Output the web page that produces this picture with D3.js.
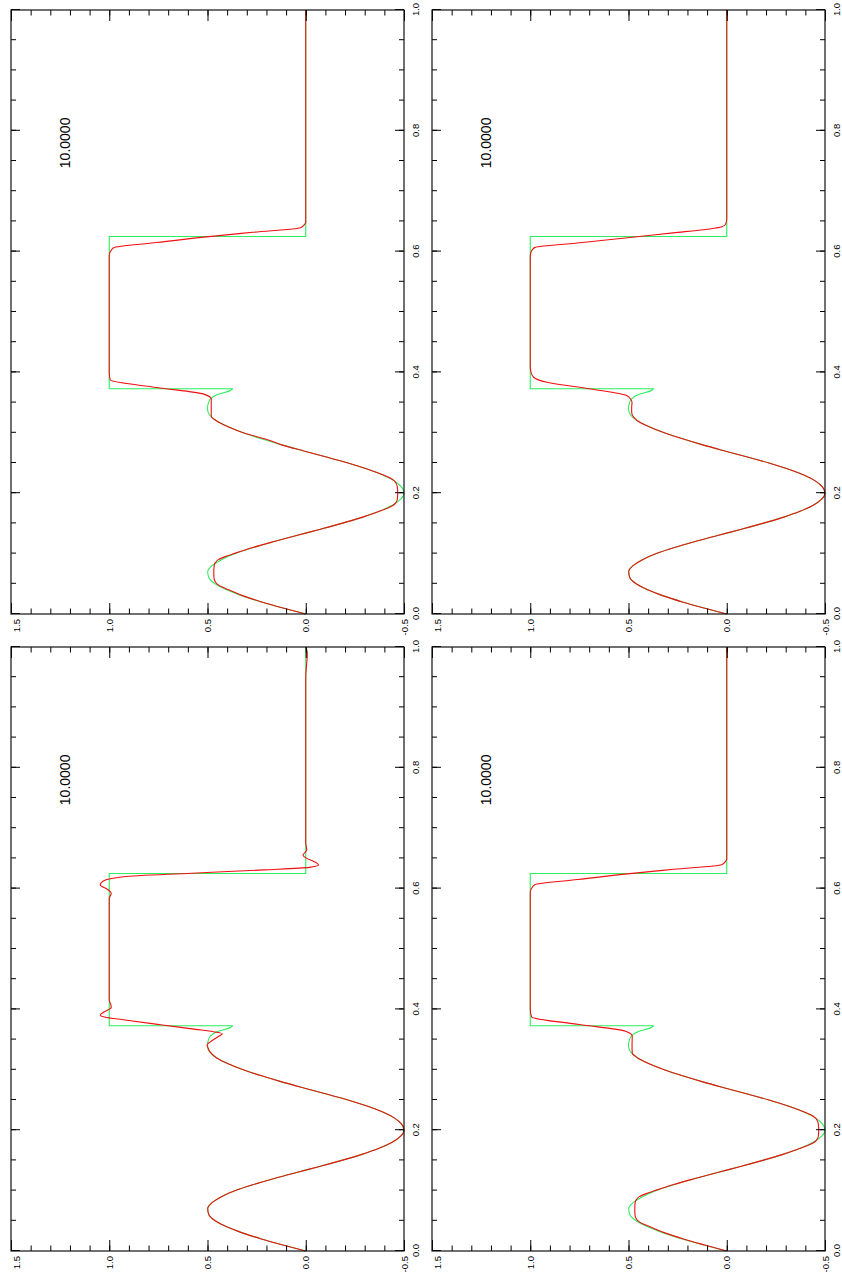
<!DOCTYPE html>
<html>
<head>
<meta charset="utf-8">
<script src="https://cdnjs.cloudflare.com/ajax/libs/d3/7.8.5/d3.min.js"></script>
<style>
  body { margin: 0; background: #fff; }
  svg text { font-family: "Liberation Sans", Arial, Helvetica, sans-serif; fill: #000; }
</style>
</head>
<body>
<svg id="chart" width="842" height="1275"></svg>
<script>
// exact solution: smooth part, then the square pulse
var exactX = [0, 0.01, 0.02, 0.03, 0.04, 0.05, 0.06, 0.07, 0.08, 0.09, 0.10, 0.11, 0.12, 0.13, 0.14,
  0.15, 0.16, 0.17, 0.18, 0.19, 0.20, 0.21, 0.22, 0.23, 0.24, 0.25, 0.26, 0.27, 0.28, 0.29,
  0.30, 0.31, 0.32, 0.33, 0.34, 0.35, 0.36, 0.365, 0.369, 0.373];
var exactY = [0, 0.116, 0.226, 0.323, 0.403, 0.461, 0.493, 0.499, 0.477, 0.429, 0.358, 0.266, 0.161, 0.047, -0.070,
  -0.183, -0.286, -0.373, -0.440, -0.483, -0.500, -0.488, -0.452, -0.392, -0.312, -0.215, -0.105, 0.010, 0.122, 0.225,
  0.318, 0.395, 0.455, 0.490, 0.500, 0.495, 0.470, 0.435, 0.390, 0.372];
var pulseX = [0.373, 0.373, 0.625, 0.625, 1.0];
var pulseY = [0.372, 1.0, 1.0, 0.0, 0.0];

// numerical solutions, one per panel
var redTLX = [0, 0.01, 0.02, 0.03, 0.04, 0.045, 0.05, 0.055, 0.06, 0.07, 0.08, 0.085, 0.09, 0.095, 0.10, 0.11, 0.12, 0.13, 0.14,
  0.15, 0.16, 0.17, 0.175, 0.18, 0.185, 0.19, 0.20, 0.21, 0.215, 0.22, 0.225, 0.23, 0.24, 0.25, 0.26, 0.27, 0.28, 0.287,
  0.30, 0.31, 0.32, 0.328, 0.34, 0.356, 0.364, 0.375, 0.3875, 0.40, 0.45, 0.55, 0.5937, 0.600, 0.6065, 0.615,
  0.624, 0.632, 0.6396, 0.645, 0.649, 0.66, 1.0];
var redTLY = [0, 0.116, 0.224, 0.318, 0.392, 0.428, 0.452, 0.463, 0.467, 0.468, 0.466, 0.46, 0.445, 0.41, 0.365, 0.27, 0.161, 0.047, -0.070,
  -0.183, -0.286, -0.375, -0.415, -0.446, -0.46, -0.466, -0.468, -0.466, -0.462, -0.452, -0.43, -0.395, -0.312, -0.215, -0.105, 0.010, 0.122, 0.179,
  0.318, 0.395, 0.455, 0.481, 0.481, 0.481, 0.519, 0.757, 0.995, 1.0, 1.0, 1.0, 1.0, 0.994, 0.978, 0.76,
  0.519, 0.27, 0.026, 0.006, 0.0, 0.0, 0.0];

var redTRX = [0, 0.01, 0.02, 0.03, 0.04, 0.05, 0.06, 0.07, 0.08, 0.09, 0.10, 0.11, 0.12, 0.13, 0.14,
  0.15, 0.16, 0.17, 0.18, 0.19, 0.20, 0.21, 0.22, 0.23, 0.24, 0.25, 0.26, 0.27, 0.28, 0.29,
  0.30, 0.31, 0.32, 0.3256, 0.334, 0.342, 0.350, 0.356, 0.3615, 0.3726, 0.3836, 0.392, 0.400, 0.41, 0.5, 0.590,
  0.598, 0.603, 0.607, 0.615, 0.623, 0.631, 0.637, 0.641, 0.646, 0.655, 1.0];
var redTRY = [0, 0.116, 0.226, 0.323, 0.403, 0.461, 0.493, 0.499, 0.477, 0.429, 0.358, 0.266, 0.161, 0.047, -0.070,
  -0.183, -0.286, -0.373, -0.440, -0.483, -0.500, -0.488, -0.452, -0.392, -0.312, -0.215, -0.105, 0.010, 0.122, 0.225,
  0.318, 0.395, 0.455, 0.473, 0.484, 0.484, 0.482, 0.49, 0.507, 0.694, 0.915, 0.983, 0.996, 1.0, 1.0, 1.0,
  0.997, 0.99, 0.975, 0.733, 0.504, 0.273, 0.10, 0.025, 0.005, 0.0, 0.0];

var redBLX = [0, 0.01, 0.02, 0.03, 0.04, 0.05, 0.06, 0.07, 0.08, 0.09, 0.10, 0.11, 0.12, 0.13, 0.14,
  0.15, 0.16, 0.17, 0.18, 0.19, 0.20, 0.21, 0.22, 0.23, 0.24, 0.25, 0.26, 0.27, 0.28, 0.29,
  0.30, 0.31, 0.32, 0.33, 0.336, 0.341, 0.348, 0.3555, 0.3595, 0.363, 0.367, 0.3742, 0.3825, 0.3875, 0.3908,
  0.396, 0.403, 0.409, 0.415, 0.5, 0.584, 0.592, 0.599, 0.6058, 0.6126, 0.6197, 0.6254, 0.631, 0.6352,
  0.6391, 0.6446, 0.650, 0.6555, 0.6639, 0.675, 0.95, 0.99, 1.0];
var redBLY = [0, 0.116, 0.226, 0.323, 0.403, 0.461, 0.493, 0.499, 0.477, 0.429, 0.358, 0.266, 0.161, 0.047, -0.070,
  -0.183, -0.286, -0.373, -0.440, -0.483, -0.500, -0.488, -0.452, -0.392, -0.312, -0.215, -0.105, 0.010, 0.122, 0.225,
  0.318, 0.395, 0.455, 0.488, 0.497, 0.502, 0.478, 0.442, 0.425, 0.47, 0.56, 0.73, 0.92, 1.025, 1.046,
  1.025, 0.99, 0.993, 1.0, 1.0, 1.0, 0.99, 1.01, 1.046, 1.03, 0.927, 0.58, 0.213, -0.017,
  -0.065, -0.043, -0.005, 0.014, -0.005, 0.0, 0.0, -0.008, 0.0];

var redBRX = [0, 0.01, 0.02, 0.03, 0.04, 0.045, 0.05, 0.055, 0.06, 0.07, 0.08, 0.085, 0.09, 0.095, 0.10, 0.11, 0.12, 0.13, 0.14,
  0.15, 0.16, 0.17, 0.175, 0.18, 0.185, 0.19, 0.20, 0.21, 0.215, 0.22, 0.225, 0.23, 0.24, 0.25, 0.26, 0.27, 0.28, 0.29,
  0.30, 0.31, 0.32, 0.328, 0.34, 0.356, 0.364, 0.375, 0.3875, 0.40, 0.45, 0.55, 0.5937, 0.600, 0.6065, 0.615,
  0.624, 0.632, 0.6396, 0.645, 0.649, 0.66, 1.0];
var redBRY = [0, 0.112, 0.22, 0.315, 0.39, 0.428, 0.452, 0.463, 0.467, 0.468, 0.466, 0.46, 0.445, 0.41, 0.365, 0.27, 0.161, 0.047, -0.070,
  -0.183, -0.286, -0.375, -0.415, -0.446, -0.46, -0.466, -0.468, -0.466, -0.462, -0.452, -0.43, -0.395, -0.312, -0.215, -0.105, 0.010, 0.122, 0.225,
  0.318, 0.395, 0.455, 0.481, 0.482, 0.481, 0.515, 0.75, 0.993, 1.0, 1.0, 1.0, 1.0, 0.994, 0.978, 0.76,
  0.519, 0.27, 0.026, 0.006, 0.0, 0.0, 0.0];

var panelLabels = ["10.0000", "10.0000", "10.0000", "10.0000"];
var xMajorTicks = [0, 0.2, 0.4, 0.6, 0.8, 1.0];
var xTickLabels = ["0.0", "0.2", "0.4", "0.6", "0.8", "1.0"];
var yMajorTicks = [-0.5, 0, 0.5, 1.0, 1.5];
var yTickLabels = ["-0.5", "0.0", "0.5", "1.0", "1.5"];

var W = 604, H = 393;
var svg = d3.select("#chart");

function drawPanel(left, bottom, redX, redY, label) {
  // plot is drawn upright, then turned a quarter turn anticlockwise
  var g = svg.append("g")
    .attr("transform", "translate(" + left + "," + bottom + ") rotate(-90)");

  var x = d3.scaleLinear().domain([0, 1]).range([0, W]);
  var y = d3.scaleLinear().domain([-0.5, 1.5]).range([H, 0]);

  var line = d3.line()
    .x(function(d) { return x(d[0]); })
    .y(function(d) { return y(d[1]); });

  var smooth = d3.zip(exactX, exactY);
  var pulse = d3.zip(pulseX, pulseY);
  var red = d3.zip(redX, redY);

  g.append("path")
    .attr("d", line.curve(d3.curveMonotoneX)(smooth))
    .attr("fill", "none").attr("stroke", "#2bef5e").attr("stroke-width", 1.1);
  g.append("path")
    .attr("d", line.curve(d3.curveLinear)(pulse))
    .attr("fill", "none").attr("stroke", "#2bef5e").attr("stroke-width", 1.1);
  g.append("path")
    .attr("d", line.curve(d3.curveMonotoneX)(red))
    .attr("fill", "none").attr("stroke", "#f01010").attr("stroke-width", 1.1);

  // minor and major ticks, all inside the frame
  function ticks(axis, tr) {
    var a = g.append("g").attr("transform", tr).call(axis);
    a.select(".domain").remove();
    a.selectAll("line").attr("stroke", "#000").attr("stroke-width", 1);
    return a;
  }
  ticks(d3.axisBottom(x).tickValues(x.ticks(20)).tickSize(-5).tickFormat(""), "translate(0," + H + ")");
  ticks(d3.axisTop(x).tickValues(x.ticks(20)).tickSize(-5).tickFormat(""), "translate(0,0)");
  ticks(d3.axisTop(x).tickValues(xMajorTicks).tickSize(-9).tickFormat(""), "translate(0,0)");
  var xa = ticks(d3.axisBottom(x).tickValues(xMajorTicks).tickSize(-9).tickPadding(8)
    .tickFormat(function(d, i) { return xTickLabels[i]; }), "translate(0," + H + ")");
  xa.selectAll("text").attr("font-size", 9.5);

  ticks(d3.axisLeft(y).tickValues(y.ticks(20)).tickSize(-5.5).tickFormat(""), "translate(0,0)");
  ticks(d3.axisRight(y).tickValues(y.ticks(20)).tickSize(-5.5).tickFormat(""), "translate(" + W + ",0)");
  ticks(d3.axisRight(y).tickValues(yMajorTicks).tickSize(-11).tickFormat(""), "translate(" + W + ",0)");
  var ya = ticks(d3.axisLeft(y).tickValues(yMajorTicks).tickSize(-11).tickPadding(5)
    .tickFormat(function(d, i) { return yTickLabels[i]; }), "translate(0,0)");
  ya.selectAll("text").attr("font-size", 9.5)
    .attr("y", function(d) { return d === 1.5 ? 5 : 0; });

  g.append("rect")
    .attr("x", 0).attr("y", 0).attr("width", W).attr("height", H)
    .attr("fill", "none").attr("stroke", "#111").attr("stroke-width", 1.2);

  g.append("text")
    .attr("x", x(0.78)).attr("y", y(1.224)).attr("dy", "0.35em")
    .attr("text-anchor", "middle").attr("font-size", 14)
    .text(label);
}

drawPanel(11, 614, redTLX, redTLY, panelLabels[0]);
drawPanel(432, 614, redTRX, redTRY, panelLabels[1]);
drawPanel(11, 1251, redBLX, redBLY, panelLabels[2]);
drawPanel(432, 1251, redBRX, redBRY, panelLabels[3]);
</script>
</body>
</html>
